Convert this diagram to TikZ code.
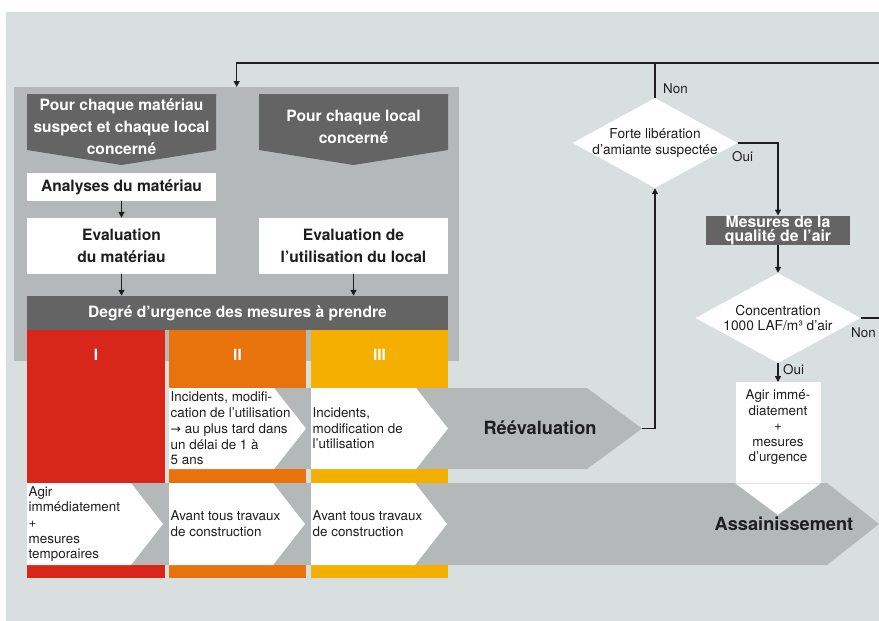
\documentclass[tikz,border=0pt]{standalone}
\usepackage{fontspec}
\setmainfont{TeX Gyre Heros}
\newfontfamily\symbfont{DejaVu Sans}
\usetikzlibrary{arrows.meta,positioning,calc,shapes.geometric}

\definecolor{fondclair}{HTML}{D9DEDE}
\definecolor{grisbande}{HTML}{B4B8B8}
\definecolor{grisfonce}{HTML}{646464}
\definecolor{rougeI}{HTML}{D9261A}
\definecolor{orangeII}{HTML}{E8730C}
\definecolor{jauneIII}{HTML}{F5AF00}
\definecolor{texte}{HTML}{1E1E1E}

\tikzset{
  titre/.style={text=white,font=\fontsize{15.6}{22}\selectfont\bfseries,align=center},
  blanc/.style={fill=white,text=texte,font=\fontsize{15.6}{22}\selectfont\bfseries,align=center,inner sep=0pt},
  petit/.style={text=texte,font=\fontsize{13.4}{15.7}\selectfont,align=left,inner sep=1.5pt},
  petitc/.style={text=texte,font=\fontsize{13.4}{15.6}\selectfont,align=center,inner sep=0pt},
  grand/.style={text=texte,font=\fontsize{18.2}{20}\selectfont\bfseries},
  chiffre/.style={text=white,font=\fontsize{15.5}{18}\selectfont\bfseries},
  losange/.style={diamond,fill=white,inner sep=0pt,minimum width=165pt,minimum height=90pt},
  losangetexte/.style={text=texte,font=\fontsize{13.7}{15.5}\selectfont,align=center,inner sep=0pt},
  reponse/.style={text=texte,font=\fontsize{13.4}{15}\selectfont,inner sep=1pt},
  fleche/.style={line width=1.4pt,draw=texte,-{Triangle[length=6pt,width=6pt]}},
  ligne/.style={line width=1.4pt,draw=texte},
}

\begin{document}
\begin{tikzpicture}[x=1pt,y=-1pt]
  \useasboundingbox (0,0) rectangle (879,621);
  \fill[white] (0,0) rectangle (879,621); % 余白
  \fill[fondclair] (6,12) rectangle (879,621); % 背景
  \node[fill=grisbande,minimum width=445pt,minimum height=274pt,inner sep=0pt,anchor=north west] (cadre) at (14,87) {}; % 評価の枠

  \fill[grisfonce] (27,94) -- (216,94) -- (216,150) -- (121.5,165) -- (27,150) -- cycle; % 左の見出し
  \node[titre] (materiau) at (121.5,127) {Pour chaque matériau\\suspect et chaque local\\concerné};
  \fill[grisfonce] (259,94) -- (448,94) -- (448,150) -- (353.5,165) -- (259,150) -- cycle; % 右の見出し
  \node[titre] (local) at (353.5,127) {Pour chaque local\\concerné};

  \node[blanc,minimum width=189pt,minimum height=28pt] (analyses) at (121.5,187) {Analyses du matériau};
  \node[blanc,minimum width=189pt,minimum height=56pt] (evalmat) at (121.5,246) {Evaluation\\du matériau};
  \node[blanc,minimum width=189pt,minimum height=56pt] (evalloc) at (353.5,246) {Evaluation de\\l’utilisation du local};
  \node[titre,fill=grisfonce,minimum width=421pt,minimum height=34pt,inner sep=0pt] (degre) at (237.5,313) {Degré d’urgence des mesures à prendre};

  \draw[fleche] (analyses) -- (evalmat); % 分析から評価へ
  \draw[fleche] (evalmat) -- (evalmat |- degre.north); % 材料の評価
  \draw[fleche] (evalloc) -- (evalloc |- degre.north); % 部屋の評価

  \fill[grisbande] (169,388) -- (587,388) -- (642,428.5) -- (587,469) -- (169,469) -- cycle; % 再評価の帯
  \fill[grisbande] (27,483) -- (827,483) -- (879,524) -- (827,565) -- (27,565) -- cycle; % 除去の帯

  \fill[rougeI] (27,330) rectangle (165,483); % 緊急度 I
  \fill[rougeI] (27,565) rectangle (165,578);
  \foreach \xa/\xb/\coul in {169/306/orangeII,311/448/jauneIII}{
    \fill[\coul] (\xa,330) rectangle (\xb,388); % 緊急度 II, III
    \fill[\coul] (\xa,469) rectangle (\xb,483);
    \fill[\coul] (\xa,565) rectangle (\xb,578);
  }
  \foreach \xa in {169,311}
    \fill[white] (\xa,388) -- ++(105,0) -- ++(32,40.5) -- ++(-32,40.5) -- ++(-105,0) -- cycle; % 上段の矢印
  \foreach \xa in {27,169,311}
    \fill[white] (\xa,483) -- ++(104,0) -- ++(32,41) -- ++(-32,41) -- ++(-104,0) -- cycle; % 下段の矢印

  \node[chiffre] (numI) at (96,355) {I};
  \node[chiffre] (numII) at (237.5,355) {II};
  \node[chiffre] (numIII) at (379.5,355) {III};

  \node[petit,anchor=west] (incidII) at (169,428.5) {Incidents, modifi-\\cation de l’utilisation\\{\symbfont\fontsize{12.5}{15.7}\selectfont →} au plus tard dans\\un délai de 1 à\\5 ans};
  \node[petit,anchor=west] (incidIII) at (311,428.5) {Incidents,\\modification de\\l’utilisation};
  \node[petit,anchor=west] (agirI) at (27,524) {Agir\\immédiatement\\+\\mesures\\temporaires};
  \node[petit,anchor=west] (avantII) at (169,524) {Avant tous travaux\\de construction};
  \node[petit,anchor=west] (avantIII) at (311,524) {Avant tous travaux\\de construction};

  \node[grand] (reeval) at (540,428) {Réévaluation};
  \coordinate (reevalpointe) at (642,428.5);

  \node[losange,label={[losangetexte]center:{Forte libération\\d’amiante suspectée}}] (forte) at (655,143) {};
  \node[fill=grisfonce,text=white,font=\fontsize{15.8}{14.5}\selectfont\bfseries,align=center,minimum width=144pt,minimum height=27pt,inner sep=0pt] (mesures) at (778,230.5) {Mesures de la\\qualité de l’air};
  \node[losange,label={[losangetexte]center:{Concentration\\1000 LAF/m³ d’air}}] (conc) at (778,318) {};
  \node[fill=white,minimum width=85pt,minimum height=101pt,inner sep=0pt,anchor=north,
    label={[petitc,yshift=5.5pt]center:{Agir immé-\\diatement\\+\\mesures\\d’urgence}}] (agir) at (778,382) {};
  \fill[white] (agir.south west) -- (agir.south east) -- (778,515) -- cycle; % 下向きの先端
  \node[grand] (assain) at (784,524) {Assainissement};

  \coordinate (retour) at (879,63);
  \coordinate (retourbas) at (879,318);
  \draw[fleche] (retour) -| (cadre.north); % 枠に戻る
  \draw[ligne] (forte.north) -- (forte.north |- retour); % 否
  \node[reponse,anchor=west] (nonA) at (662,89) {Non};
  \draw[fleche] (forte.east) -| (mesures.north); % 是
  \node[reponse,anchor=west] (ouiA) at (731,157) {Oui};
  \draw[fleche] (mesures) -- (conc); % 測定から判定へ
  \draw[ligne] (conc.east) -- (retourbas); % 否
  \node[reponse] (nonB) at (863.5,333) {Non};
  \draw[fleche] (conc) -- (agir); % 是
  \node[reponse,anchor=west] (ouiB) at (782,370) {Oui};
  \draw[fleche] (reevalpointe) -| (forte.south); % 再評価から判定へ
\end{tikzpicture}
\end{document}
